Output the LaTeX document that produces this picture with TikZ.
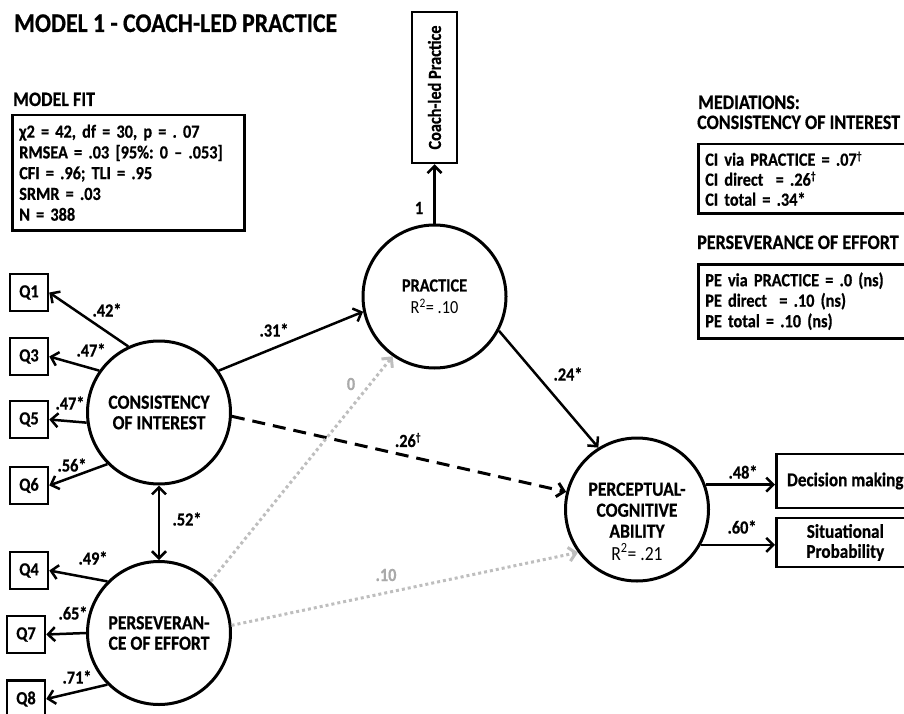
\documentclass[tikz,border=0pt]{standalone}
\usepackage{fontspec}
\setmainfont{Carlito}[FakeStretch=0.88, BoldFeatures={FakeBold=0.6}]
\usetikzlibrary{arrows.meta}
\definecolor{lgrey}{RGB}{190,190,190}
\definecolor{tgrey}{RGB}{170,170,170}
\frenchspacing
\newcommand{\dagsup}{\textsuperscript{\fontsize{11}{11}\selectfont †}}
\begin{document}
\begin{tikzpicture}[x=1pt,y=-1pt,
  font=\fontsize{18.5}{20.75}\selectfont\bfseries,
  lat/.style={circle, draw, line width=3pt, minimum size=143pt, inner sep=0pt, align=center},
  obs/.style={draw, line width=2.5pt, minimum width=38pt, minimum height=37pt, inner sep=0pt},
  box/.style={draw, line width=2.5pt, inner sep=0pt},
  path/.style={line width=2.5pt, -{Straight Barb[length=7pt,width=14pt]}},
  dotp/.style={line width=3pt, lgrey, dash pattern=on 3pt off 3pt, -{Straight Barb[length=7pt,width=14pt]}},
  lbl/.style={inner sep=0pt},
  head/.style={inner sep=0pt, anchor=base west, font=\fontsize{20.5}{22}\selectfont\bfseries},
  ctext/.style={font=\fontsize{20}{20.5}\selectfont\bfseries}
]
\clip (0,0) rectangle (904,714);

% titles
\node[lbl, anchor=base west, font=\fontsize{27}{30}\selectfont\bfseries] (title) at (14,32) {MODEL 1 - COACH-LED PRACTICE};
\node[head] (fitt) at (13,106) {MODEL FIT};
\node[box, anchor=north west, minimum width=232pt, minimum height=115pt, text width=218pt, inner xsep=7pt, align=left] (fit) at (11,114)
  {χ2 = 42, df = 30, p = . 07\\RMSEA = .03 [95\%: 0 – .053]\\CFI = .96; TLI = .95\\SRMR = .03\\N = 388};

\node[head] (medt) at (698,109) {MEDIATIONS:};
\node[head] (cit) at (697,129) {CONSISTENCY OF INTEREST};
\node[box, anchor=north west, minimum width=220pt, minimum height=69pt, text width=206pt, inner xsep=7pt, align=left, font=\fontsize{18.5}{20}\selectfont\bfseries] (cim) at (697,143)
  {CI via PRACTICE = .07\dagsup\\CI direct\ \ = .26\dagsup\\CI total = .34*};
\node[head] (pet) at (697,249) {PERSEVERANCE OF EFFORT};
\node[box, anchor=north west, minimum width=220pt, minimum height=74pt, text width=206pt, inner xsep=7pt, align=left, font=\fontsize{18.5}{20.5}\selectfont\bfseries] (pem) at (697,263)
  {PE via PRACTICE = .0 (ns)\\PE direct\ \ = .10 (ns)\\PE total = .10 (ns)};

% coach-led box
\node[box, rotate=90, minimum width=151pt, minimum height=45pt] (cl) at (434.5,87.5) {Coach-led Practice};

% latent variables
\node[lat, font=\fontsize{18.5}{20.5}\selectfont\bfseries] (pr) at (434.5,296.5) {PRACTICE\\[1.5pt]{\mdseries R\textsuperscript{2}= .10}};
\node[lat, ctext] (ci) at (159,412.5) {CONSISTENCY\\OF INTEREST};
\node[lat, ctext] (pe) at (159,633) {PERSEVERAN-\\CE OF EFFORT};
\node[lat] (pca) at (637,509.5) {};
\node[lbl, align=center, font=\fontsize{20}{21}\selectfont\bfseries] (pcat) at (637,521.5) {PERCEPTUAL-\\COGNITIVE\\ABILITY\\[1.5pt]{\mdseries R\textsuperscript{2}= .21}};

% indicators
\node[obs] (q1) at (29,292.5) {Q1};
\node[obs] (q3) at (29,356.5) {Q3};
\node[obs] (q5) at (29,419.5) {Q5};
\node[obs] (q6) at (29,485.5) {Q6};
\node[obs] (q4) at (29,570.5) {Q4};
\node[obs] (q7) at (26,634.5) {Q7};
\node[obs] (q8) at (26,699) {Q8};

\node[box, anchor=west, minimum width=138pt, minimum height=54pt, font=\fontsize{19.5}{20}\selectfont\bfseries] (dm) at (775,481) {Decision making};
\node[box, anchor=west, minimum width=138pt, minimum height=49pt, align=center, font=\fontsize{19.5}{20}\selectfont\bfseries] (sp) at (775,542.5) {Situational\\Probability};

% connectors
\draw[path] (pr.north) -- (cl.west);
\draw[path] (ci.115) -- (q1.east);
\draw[path] (ci.145) -- (q3.east);
\draw[path] (ci.188) -- (q5.east);
\draw[path] (ci.225) -- (q6.east);
\draw[path] (pe.135) -- (q4.east);
\draw[path] (pe.180) -- (q7.east);
\draw[path] (pe.225) -- (q8.east);
\draw[line width=2.5pt, {Straight Barb[length=7pt,width=14pt]}-{Straight Barb[length=7pt,width=14pt]}] (ci.south) -- (pe.north);
\draw[path] (ci.35) -- (pr.192);
\draw[path, line width=3pt, dash pattern=on 13pt off 8pt] (ci.-3) -- (pca.166);
\draw[dotp] (pe.45) -- (pr.235);
\draw[dotp] (pe.6) -- (pca.216);
\draw[path] (pr.-28.5) -- (pca.122.6);
\draw[path] (pca.20) -- (pca.20 -| dm.west);
\draw[path] (pca.-29) -- (pca.-29 -| sp.west);

% labels
\node[lbl] (l1) at (419,208) {1};
\node[lbl] (l42) at (107,310) {.42*};
\node[lbl] (l47a) at (91,350) {.47*};
\node[lbl] (l47b) at (70,403) {.47*};
\node[lbl] (l56) at (72,465) {.56*};
\node[lbl] (l52) at (187,519) {.52*};
\node[lbl] (l49) at (93,558) {.49*};
\node[lbl] (l65) at (73,613) {.65*};
\node[lbl] (l71) at (77,677) {.71*};
\node[lbl] (l31) at (274,330) {.31*};
\node[lbl] (l26) at (408,440) {.26\dagsup};
\node[lbl, text=tgrey] (l0) at (351,384) {0};
\node[lbl, text=tgrey] (l10) at (386,575) {.10};
\node[lbl] (l24) at (568,374) {.24*};
\node[lbl] (l48) at (743,472) {.48*};
\node[lbl] (l60) at (742,527) {.60*};
\end{tikzpicture}
\end{document}
